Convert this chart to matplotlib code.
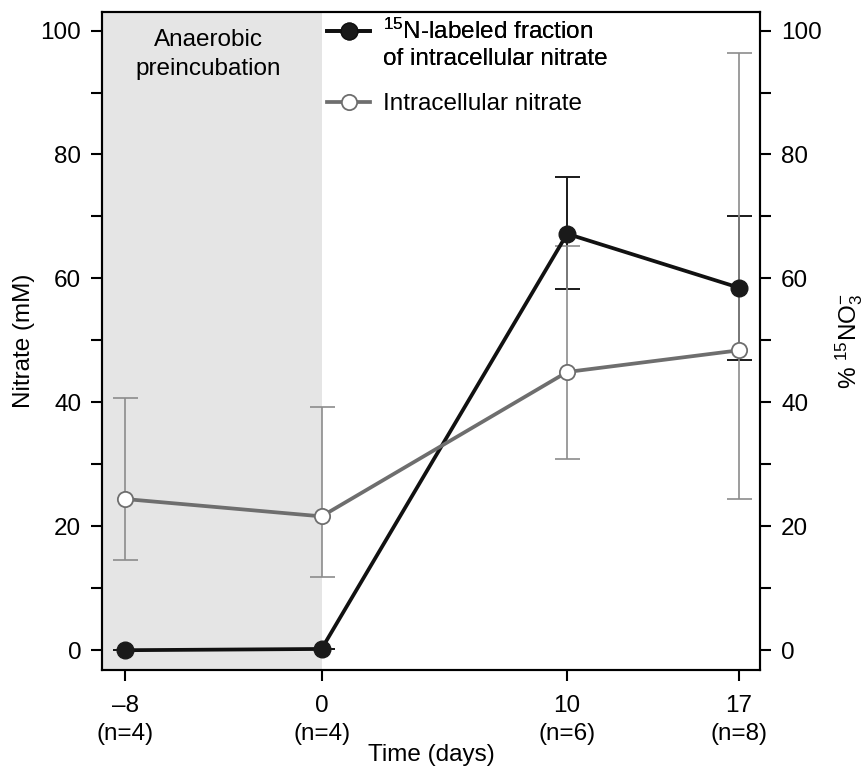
import numpy as np
import matplotlib.pyplot as plt
from matplotlib.lines import Line2D

plt.rcParams['font.family'] = ['Liberation Sans', 'DejaVu Sans']
plt.rcParams['mathtext.fontset'] = 'custom'
plt.rcParams['mathtext.rm'] = 'Liberation Sans'
plt.rcParams['mathtext.it'] = 'Liberation Sans:italic'

# data
gun = [-8, 0, 10, 17]
gun_etiket = ['\u20138\n(n=4)', '0\n(n=4)', '10\n(n=6)', '17\n(n=8)']

nitrat = [24.4, 21.6, 44.9, 48.4]
nitrat_ust = [40.7, 39.3, 65.3, 96.4]
nitrat_alt = [14.6, 11.8, 30.8, 24.4]

n15_oran = [0.0, 0.2, 67.2, 58.5]
n15_ust = [0.0, 0.2, 76.3, 70.1]
n15_alt = [0.0, 0.2, 58.3, 46.9]

gri = '#6e6e6e'
gri_hata = '#8c8c8c'
FS = 17.5
W, H = 866, 773

fig = plt.figure(figsize=(8.66, 7.73), dpi=100)
ax = fig.add_axes([0.1178, 0.1332, 0.76, 0.8513])
ax2 = ax.twinx()

ax.set_xlim(-8.94, 17.86)
ax.set_ylim(-3.2, 103)
ax2.set_ylim(-3.2, 103)

ax.axvspan(-8.94, 0, color='#e5e5e5', lw=0, zorder=0)
ax.text(-4.6, 100.3, 'Anaerobic\npreincubation', ha='center', va='top',
        fontsize=FS, linespacing=1.45)

# hata cubuklari
n_yerr = [np.array(n15_oran) - np.array(n15_alt), np.array(n15_ust) - np.array(n15_oran)]
ax.errorbar(gun, n15_oran, yerr=n_yerr, fmt='none', ecolor='#1a1a1a',
            elinewidth=1.4, capsize=9, capthick=1.4, zorder=2)
g_yerr = [np.array(nitrat) - np.array(nitrat_alt), np.array(nitrat_ust) - np.array(nitrat)]
ax.errorbar(gun, nitrat, yerr=g_yerr, fmt='none', ecolor=gri_hata,
            elinewidth=1.2, capsize=9, capthick=1.2, zorder=2)

ax.plot(gun, nitrat, color=gri, lw=2.7, marker='o', ms=11,
        mfc='white', mec=gri, mew=1.3, zorder=4)
ax.plot(gun, n15_oran, color='#111111', lw=2.7, marker='o', ms=12,
        mfc='#1a1a1a', mec='#1a1a1a', zorder=3)

# eksenler
for a in (ax, ax2):
    a.set_yticks(np.arange(0, 101, 20))
    a.set_yticks(np.arange(10, 100, 20), minor=True)
    a.tick_params(axis='y', which='both', length=8, width=1.5, labelsize=FS, pad=7)
    for s in a.spines.values():
        s.set_linewidth(1.5)
ax.set_xticks(gun)
ax.set_xticklabels(gun_etiket, fontsize=FS, linespacing=1.35)
ax.tick_params(axis='x', length=8, width=1.5, pad=10)

ax.set_ylabel('Nitrate (mM)', fontsize=FS, labelpad=4)
ax2.set_ylabel('% $^{15}$NO$_3^{-}$', fontsize=FS, labelpad=8)
ax.set_xlabel('Time (days)', fontsize=FS, labelpad=-1)

# lejant: ilk tutamac ilk satirla hizali
siyah = Line2D([], [], color='#111111', lw=2.7, marker='o', ms=12, mfc='#1a1a1a')
bos = Line2D([], [], color='none')
gri_t = Line2D([], [], color=gri, lw=2.7, marker='o', ms=11, mfc='white', mec=gri, mew=1.3)
ortak = dict(loc='upper left', frameon=False, fontsize=FS, handlelength=1.77,
             handletextpad=0.53, borderpad=0, borderaxespad=0, bbox_transform=fig.transFigure)
leg1 = ax.legend([siyah, bos], ['$^{15}$N-labeled fraction', 'of intracellular nitrate'],
                 bbox_to_anchor=(327 / W, 1 - 19 / H), labelspacing=0.15, **ortak)
ax.add_artist(leg1)
ax2.legend([gri_t], ['Intracellular nitrate'],
           bbox_to_anchor=(327 / W, 1 - 93 / H), **ortak)

fig.savefig('out.png', dpi=100)
